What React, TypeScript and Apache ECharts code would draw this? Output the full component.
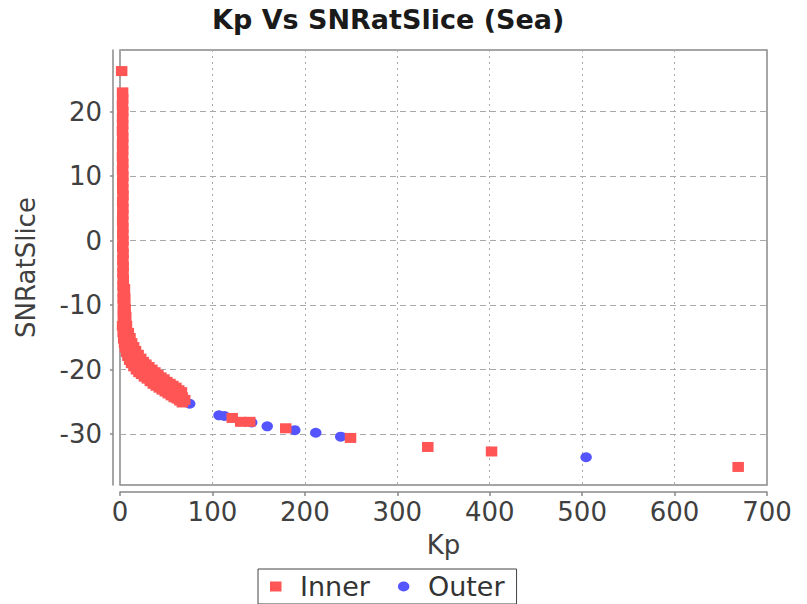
import React, { useEffect, useRef } from "react";
import * as echarts from "echarts";

const titleText = "Kp Vs SNRatSlice (Sea)";
const xName = "Kp";
const yName = "SNRatSlice";
const seriesNames = ["Inner", "Outer"];
const xTicks = [0, 100, 200, 300, 400, 500, 600, 700];
const yTicks = [-30, -20, -10, 0, 10, 20];

const innerPoints: [number, number][] = [
  [1.8, 26.3],
  [2.8, 23.0], [2.9, 22.0], [2.7, 21.0], [3.0, 20.0], [2.8, 19.0], [2.9, 18.0], [2.7, 17.0],
  [3.0, 16.0], [2.8, 15.0], [2.9, 14.0], [2.7, 13.0], [3.0, 12.0], [2.8, 11.0], [3.1, 10.0],
  [2.9, 9.0], [3.0, 8.0], [3.2, 7.0], [2.9, 6.0], [3.1, 5.0], [3.0, 4.0], [2.9, 3.0],
  [3.1, 2.0], [3.0, 1.0], [3.2, 0.0], [3.0, -1.0], [3.3, -2.0], [3.1, -3.0], [3.4, -4.0],
  [3.2, -5.0], [3.5, -6.0], [3.3, -7.0], [3.6, -8.0], [3.4, -9.0], [3.7, -10.0],
  [4.8, -7.5], [5.2, -9.0], [5.6, -10.5], [3.8, -11.0], [4.2, -12.0], [6.2, -11.8],
  [4.6, -13.0], [5.2, -14.0], [7.0, -13.2], [6.0, -15.0], [8.2, -14.6], [7.0, -16.0],
  [3.6, -11.6], [4.8, -13.6], [7.0, -15.4], [8.6, -16.3], [10.5, -17.0], [12.6, -17.6],
  [14.8, -18.2], [17.5, -18.7], [20.2, -19.2], [22.9, -19.6], [25.6, -19.9], [28.8, -20.3],
  [32.1, -20.7], [35.3, -21.1], [38.6, -21.5], [41.8, -21.8], [45.1, -22.1], [48.3, -22.4],
  [51.6, -22.7], [54.8, -23.0], [58.1, -23.3], [61.3, -23.6], [64.6, -23.9], [67.3, -24.3],
  [70.0, -24.7],
  [9.0, -14.3], [10.8, -15.1], [12.6, -15.9], [14.7, -16.5], [16.8, -17.1], [19.6, -17.7],
  [22.4, -18.3], [25.2, -18.8], [28.0, -19.2], [31.2, -19.6], [34.5, -20.0], [37.7, -20.4],
  [41.0, -20.8], [44.2, -21.2], [47.5, -21.5], [50.7, -21.9], [54.0, -22.2], [57.2, -22.5],
  [60.5, -22.8], [63.5, -23.2], [66.5, -23.5],
  [2.8, -13.2], [3.4, -14.2], [4.0, -15.2], [4.9, -15.9], [5.8, -16.6], [7.2, -17.3],
  [8.6, -17.9], [10.5, -18.5], [12.5, -19.0], [15.1, -19.5], [17.8, -20.0], [20.5, -20.4],
  [23.3, -20.7], [26.4, -21.1], [29.6, -21.4], [32.8, -21.8], [36.0, -22.2], [39.2, -22.5],
  [42.5, -22.8], [45.7, -23.1], [49.0, -23.4], [52.2, -23.7], [55.5, -24.0], [58.7, -24.3],
  [62.0, -24.5], [64.8, -24.8], [67.5, -25.1],
  [121.4, -27.5], [130.6, -28.1], [140.4, -28.1], [179.3, -29.1], [249.4, -30.6],
  [333.0, -32.0], [402.0, -32.7], [668.8, -35.1],
];

const outerPoints: [number, number][] = [
  [23.0, -20.4], [32.1, -20.7], [51.6, -22.7], [75.4, -25.3], [107.1, -27.1], [113.0, -27.2],
  [142.5, -28.2], [159.3, -28.8], [189.1, -29.4], [211.8, -29.8], [238.8, -30.4], [504.3, -33.6],
];

const FONT = "DejaVu Sans";
const AXIS_GRAY = "#888888";
const TEXT_GRAY = "#404040";

export default function App() {
  const ref = useRef<HTMLDivElement>(null);
  useEffect(() => {
    document.body.style.margin = "0";
    const chart = echarts.init(ref.current!, null, { renderer: "svg" });
    chart.setOption({
      animation: false,
      backgroundColor: "#ffffff",
      title: {
        text: titleText,
        left: 212,
        top: 6,
        padding: 0,
        textStyle: { fontFamily: FONT, fontSize: 27, fontWeight: "bold", color: "#1a1a1a" },
      },
      grid: {
        left: 120,
        right: 40,
        top: 50,
        bottom: 119,
        show: true,
        backgroundColor: "#ffffff",
        borderColor: AXIS_GRAY,
        borderWidth: 1.5,
      },
      legend: {
        data: [
          { name: seriesNames[0], icon: "path://M0,0h11.5v10h-11.5zM25,10" },
          { name: seriesNames[1], icon: "path://M0,5a5.75,5 0 1,0 11.5,0a5.75,5 0 1,0 -11.5,0zM25,10" },
        ],
        left: 258,
        top: 569,
        orient: "horizontal",
        itemWidth: 25,
        itemHeight: 10,
        itemGap: 28,
        padding: [4, 12, 4, 12],
        borderColor: "#444444",
        borderWidth: 1,
        backgroundColor: "#ffffff",
        textStyle: { fontFamily: FONT, fontSize: 27, color: "#333333" },
      },
      xAxis: {
        type: "value",
        min: xTicks[0],
        max: xTicks[xTicks.length - 1],
        interval: 100,
        offset: 7,
        name: xName,
        nameLocation: "middle",
        nameGap: 40,
        nameTextStyle: { fontFamily: FONT, fontSize: 26, color: TEXT_GRAY },
        axisLine: { show: true, onZero: false, lineStyle: { color: AXIS_GRAY, width: 1.5 } },
        axisTick: { show: true, inside: false, length: 4, lineStyle: { color: AXIS_GRAY, width: 1.5 } },
        axisLabel: { margin: 7, fontFamily: FONT, fontSize: 26, color: TEXT_GRAY },
        splitLine: { show: true, lineStyle: { color: "#a8a8a8", width: 1, type: [2, 4] } },
      },
      yAxis: {
        type: "value",
        min: -37.9,
        max: 29.57,
        offset: 7,
        name: yName,
        nameLocation: "middle",
        nameRotate: 90,
        nameGap: 74,
        nameTextStyle: { fontFamily: FONT, fontSize: 26, color: TEXT_GRAY },
        axisLine: { show: true, onZero: false, lineStyle: { color: AXIS_GRAY, width: 1.5 } },
        axisTick: {
          show: true,
          inside: false,
          length: 3,
          customValues: yTicks,
          lineStyle: { color: AXIS_GRAY, width: 1.5 },
        },
        axisLabel: {
          margin: 11,
          customValues: yTicks,
          fontFamily: FONT,
          fontSize: 26,
          color: TEXT_GRAY,
          formatter: (v: number) => (Math.abs(v % 10) < 1e-9 ? String(v) : ""),
        },
        splitLine: { show: true, lineStyle: { color: "#a8a8a8", width: 1, type: [6, 4] } },
      },
      series: [
        {
          type: "scatter",
          name: seriesNames[0],
          data: innerPoints,
          symbol: "rect",
          symbolSize: [11.5, 10],
          itemStyle: { color: "#FF5555", opacity: 1 },
          z: 3,
        },
        {
          type: "scatter",
          name: seriesNames[1],
          data: outerPoints,
          symbol: "circle",
          symbolSize: [11.5, 10],
          itemStyle: { color: "#5555FF", opacity: 1 },
          z: 2,
        },
      ],
    });
    return () => chart.dispose();
  }, []);
  return <div ref={ref} style={{ width: 807, height: 604 }} />;
}
